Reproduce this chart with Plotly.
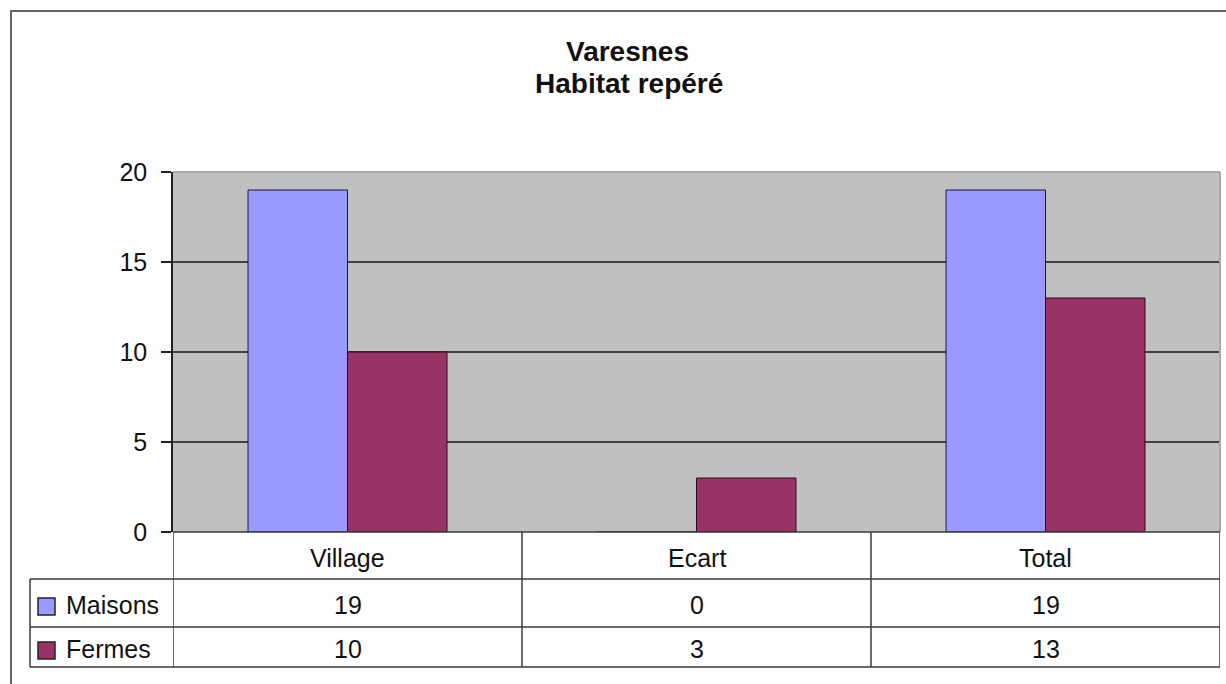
import plotly.graph_objects as go

categories = ["Village", "Ecart", "Total"]
maisons = [19, 0, 19]
fermes = [10, 3, 13]
series_names = ["Maisons", "Fermes"]
title_lines = ["Varesnes", "Habitat repéré"]

W, H = 1226, 684
C_MAISONS = "#9999FF"
C_FERMES = "#993366"
FONT = "Liberation Sans, Arial, sans-serif"
TXT = "#111111"

def px(x):
    return x / W

def py(y):
    return 1 - y / H

plot_l, plot_r, plot_t, plot_b = 173, 1220, 172, 532
row1_b, row2_b, row3_b = 579, 627, 667
table_l = 30

fig = go.Figure()
fig.add_trace(go.Bar(x=categories, y=maisons, name=series_names[0],
                     marker=dict(color=C_MAISONS, line=dict(color="#1a1a40", width=1))))
fig.add_trace(go.Bar(x=categories, y=fermes, name=series_names[1],
                     marker=dict(color=C_FERMES, line=dict(color="#2a0a18", width=1))))

shapes = []
line_col = "#3a3a3a"
# outer chart border (left and top)
shapes.append(dict(type="line", xref="paper", yref="paper", x0=px(11), x1=px(11), y0=py(11), y1=0,
                   line=dict(color="#666666", width=2)))
shapes.append(dict(type="line", xref="paper", yref="paper", x0=px(10), x1=1, y0=py(11), y1=py(11),
                   line=dict(color="#666666", width=2)))
# plot area border (gray) top & right
shapes.append(dict(type="line", xref="paper", yref="paper", x0=px(plot_l), x1=px(plot_r), y0=py(plot_t), y1=py(plot_t),
                   line=dict(color="#a8a8a8", width=2), layer="above"))
shapes.append(dict(type="line", xref="paper", yref="paper", x0=px(plot_r), x1=px(plot_r), y0=py(plot_t), y1=py(plot_b),
                   line=dict(color="#a8a8a8", width=2), layer="above"))
# table horizontal lines
shapes.append(dict(type="line", xref="paper", yref="paper", x0=px(plot_l), x1=px(plot_r), y0=py(plot_b), y1=py(plot_b),
                   line=dict(color=line_col, width=1.5), layer="above"))
for yy in (row1_b, row2_b, row3_b):
    shapes.append(dict(type="line", xref="paper", yref="paper", x0=px(table_l), x1=px(plot_r), y0=py(yy), y1=py(yy),
                       line=dict(color=line_col, width=1.5)))
# table vertical lines
shapes.append(dict(type="line", xref="paper", yref="paper", x0=px(table_l), x1=px(table_l), y0=py(row1_b), y1=py(row3_b),
                   line=dict(color=line_col, width=1.5)))
for i in range(len(categories) + 1):
    shapes.append(dict(type="line", xref="x", yref="paper", x0=i - 0.5, x1=i - 0.5, y0=py(plot_b), y1=py(row3_b),
                       line=dict(color=line_col, width=1.5)))
# legend keys in table
for col, yc in [(C_MAISONS, 606.5), (C_FERMES, 650.5)]:
    shapes.append(dict(type="rect", xref="paper", yref="paper", x0=px(38), x1=px(55), y0=py(yc - 8.5), y1=py(yc + 8.5),
                       fillcolor=col, line=dict(color="#222222", width=1.5)))

annotations = []
tfont = dict(family=FONT, size=28, color=TXT)
annotations.append(dict(text="<b>%s</b>" % title_lines[0], xref="paper", yref="paper", x=px(627), y=py(52),
                        showarrow=False, font=tfont, xanchor="center", yanchor="middle"))
annotations.append(dict(text="<b>%s</b>" % title_lines[1], xref="paper", yref="paper", x=px(629), y=py(83),
                        showarrow=False, font=tfont, xanchor="center", yanchor="middle"))
tf = dict(family=FONT, size=25, color=TXT)
y_head, y_m, y_f = 558, 605, 649
for i, c in enumerate(categories):
    annotations.append(dict(text=c, xref="x", yref="paper", x=i, y=py(y_head), showarrow=False, font=tf,
                            xanchor="center", yanchor="middle"))
    annotations.append(dict(text=str(maisons[i]), xref="x", yref="paper", x=i, y=py(y_m), showarrow=False, font=tf,
                            xanchor="center", yanchor="middle"))
    annotations.append(dict(text=str(fermes[i]), xref="x", yref="paper", x=i, y=py(y_f), showarrow=False, font=tf,
                            xanchor="center", yanchor="middle"))
annotations.append(dict(text=series_names[0], xref="paper", yref="paper", x=px(64), y=py(y_m), showarrow=False,
                        font=tf, xanchor="left", yanchor="middle"))
annotations.append(dict(text=series_names[1], xref="paper", yref="paper", x=px(64), y=py(y_f), showarrow=False,
                        font=tf, xanchor="left", yanchor="middle"))

fig.update_layout(
    width=W, height=H, autosize=False,
    margin=dict(l=0, r=0, t=0, b=0, pad=0, autoexpand=False),
    paper_bgcolor="white",
    plot_bgcolor="#C0C0C0",
    barmode="group",
    bargap=0.43,
    bargroupgap=0,
    showlegend=False,
    shapes=shapes,
    annotations=annotations,
    font=dict(family=FONT, size=25, color=TXT),
    xaxis=dict(domain=[px(plot_l), px(plot_r)], showticklabels=False, showgrid=False, zeroline=False,
               showline=False, ticks="", range=[-0.5, 2.5], fixedrange=True, automargin=False),
    yaxis=dict(domain=[py(plot_b), py(plot_t)], range=[0, 20], dtick=5, showgrid=True, gridcolor="#404040",
               gridwidth=1.5, zeroline=False, showline=True, linecolor="#222222", linewidth=1.5,
               ticks="outside", ticklen=10, tickcolor="#222222", tickwidth=1.5, ticklabelstandoff=9,
               tickfont=dict(family=FONT, size=25, color=TXT), fixedrange=True, automargin=False),
)

ps = ("document.documentElement.style.margin='0';document.body.style.margin='0';"
      "document.body.style.overflow='hidden';")
fig.write_html("out.html", config={"displayModeBar": False}, post_script=ps)
